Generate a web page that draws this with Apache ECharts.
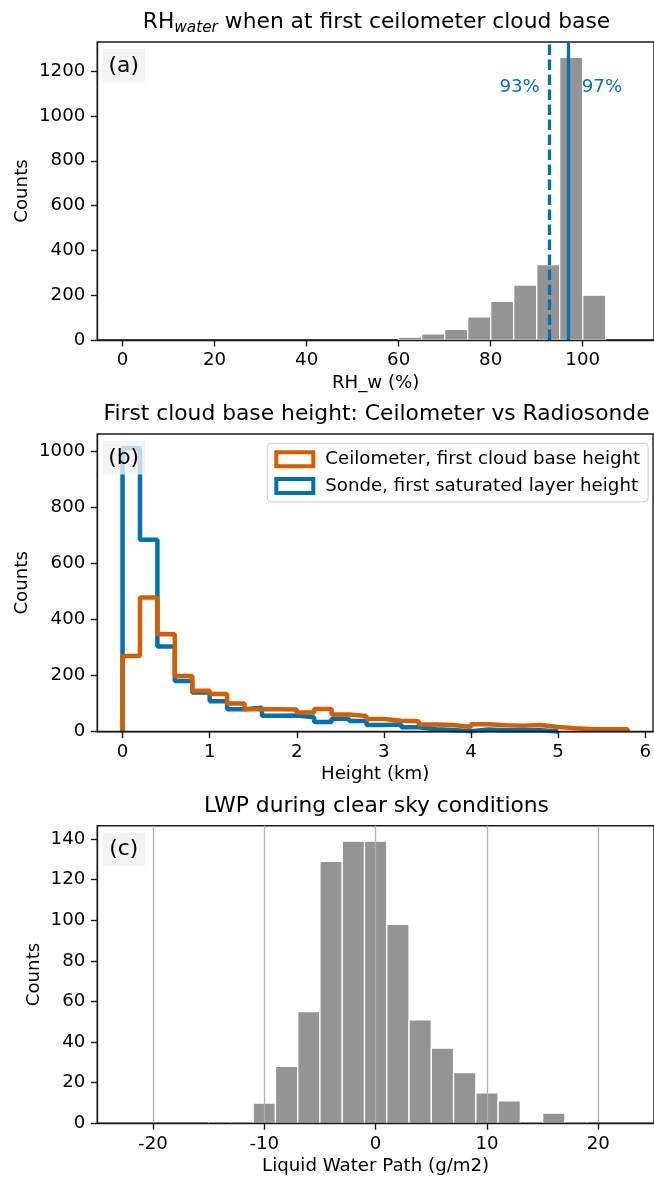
<!DOCTYPE html>
<html><head><meta charset="utf-8">
<script src="https://cdn.jsdelivr.net/npm/echarts@6/dist/echarts.min.js"></script>
<style>html,body{margin:0;padding:0;background:#fff}#c{width:654px;height:1178px}</style>
</head><body><div id="c"></div>
<script>
// ---------- Panel (a): RH_water histogram ----------
const rhBinStarts = [60, 65, 70, 75, 80, 85, 90, 95, 100];
const rhBinWidth = 5;
const rhCounts = [13, 27, 48, 103, 172, 245, 337, 1262, 200];
const rhPercentiles = [92.7, 96.9];          // dashed, solid
const rhPercentileLabels = ['93%', '97%'];
const rhXTicks = [0, 20, 40, 60, 80, 100];
const rhYTicks = [0, 200, 400, 600, 800, 1000, 1200];

// ---------- Panel (b): cloud base height step histograms ----------
const cbhBinWidth = 0.2;
const ceilCounts = [270, 479, 348, 199, 146, 135, 101, 80, 80, 79, 69, 81, 61, 56, 45, 39, 37, 26, 24, 17, 27, 23, 21, 24, 17, 12, 9, 9, 9];
const sondeCounts = [1012, 685, 304, 181, 140, 109, 80, 86, 57, 58, 52, 35, 46, 38, 24, 26, 16, 9, 6, 2, 8, 5, 5, 5, 1];
const cbhXTicks = [0, 1, 2, 3, 4, 5, 6];
const cbhYTicks = [0, 200, 400, 600, 800, 1000];
const legendNames = ['Ceilometer, first cloud base height', 'Sonde, first saturated layer height'];

// ---------- Panel (c): LWP clear sky histogram ----------
const lwpBinCenters = [-22, -20, -18, -16, -14, -12, -10, -8, -6, -4, -2, 0, 2, 4, 6, 8, 10, 12, 14, 16, 18, 20, 22];
const lwpBinWidth = 2;
const lwpCounts = [0, 0, 0, 0, 1, 1, 10, 28, 55, 129, 139, 139, 98, 51, 37, 25, 15, 11, 1, 5, 1, 0, 0];
const lwpXTicks = [-20, -10, 0, 10, 20];
const lwpYTicks = [0, 20, 40, 60, 80, 100, 120, 140];

const titles = ['First cloud base height: Ceilometer vs Radiosonde', 'LWP during clear sky conditions'];
const panelLabels = ['(a)', '(b)', '(c)'];

// ---------- layout ----------
const FONT = 'DejaVu Sans';
const FS = 18.2, TFS = 21.8;
const BLUE = '#0072B2', ORANGE = '#D55E00', GREY = '#949494';
const AXC = '#1a1a1a';
const L = 97.3, R = -2.4;
const grids = [
  {top: 42, height: 298},
  {top: 434, height: 297.7},
  {top: 825.7, height: 297.6}
];

function xAx(gi, min, max, ticks, name) {
  return {
    type: 'value', gridIndex: gi, min, max, name, nameLocation: 'middle', nameGap: 34, z: 5,
    nameTextStyle: {fontSize: FS, color: '#000', fontFamily: FONT},
    axisLine: {show: true, onZero: false, lineStyle: {color: AXC, width: 1.4}},
    axisTick: {show: true, length: 6.4, customValues: ticks, lineStyle: {color: AXC, width: 1.4}},
    axisLabel: {customValues: ticks, fontSize: FS, color: '#000', fontFamily: FONT, margin: 11.5, formatter: v => String(v)},
    splitLine: {show: false}
  };
}
function yAx(gi, max, ticks, gap) {
  return {
    type: 'value', gridIndex: gi, min: 0, max, name: 'Counts', nameLocation: 'middle', nameGap: gap, nameMoveOverlap: false, z: 5,
    nameTextStyle: {fontSize: FS, color: '#000', fontFamily: FONT},
    axisLine: {show: true, onZero: false, lineStyle: {color: AXC, width: 1.4}},
    axisTick: {show: true, length: 6.4, customValues: ticks, lineStyle: {color: AXC, width: 1.4}},
    axisLabel: {customValues: ticks, fontSize: FS, color: '#000', fontFamily: FONT, margin: 12, formatter: v => String(v)},
    splitLine: {show: false}
  };
}

function barRender(params, api) {
  if (!api.value(2)) return null;
  const p0 = api.coord([api.value(0), api.value(2)]);
  const p1 = api.coord([api.value(1), 0]);
  return {type: 'rect', shape: {x: p0[0], y: p0[1], width: p1[0] - p0[0], height: p1[1] - p0[1]},
          style: {fill: GREY, stroke: '#fff', lineWidth: 1.3}};
}
function stepPoints(counts, w) {
  const pts = [[0, 0]];
  counts.forEach((v, i) => { pts.push([i * w, v]); pts.push([(i + 1) * w, v]); });
  pts.push([counts.length * w, 0]);
  return pts;
}

const rhData = rhBinStarts.map((s, i) => [s, s + rhBinWidth, rhCounts[i]]);
const lwpData = lwpBinCenters.map((c, i) => [c - lwpBinWidth / 2, c + lwpBinWidth / 2, lwpCounts[i]]);
const rhLabelPts = [
  {value: [rhPercentiles[0] - 2.0, 1127], label: {formatter: rhPercentileLabels[0], align: 'right'}},
  {value: [rhPercentiles[1] + 2.9, 1127], label: {formatter: rhPercentileLabels[1], align: 'left'}}
];

const graphics = [];
graphics.push({type: 'text', x: 376.5, y: 22, z: 100, style: {
  text: '{n|RH}{s|water}{n| when at first ceilometer cloud base}',
  align: 'center', verticalAlign: 'middle', fill: '#000',
  rich: {n: {fontSize: TFS, fontFamily: FONT, lineHeight: 27, fill: '#000'},
         s: {fontSize: 15.3, fontFamily: FONT, fontStyle: 'italic', lineHeight: 27, verticalAlign: 'bottom', fill: '#000'}}
}});
graphics.push({type: 'text', x: 376.5, y: 414, z: 100, style: {text: titles[0], align: 'center', verticalAlign: 'middle', fontSize: TFS, fontFamily: FONT, fill: '#000'}});
graphics.push({type: 'text', x: 376.5, y: 806, z: 100, style: {text: titles[1], align: 'center', verticalAlign: 'middle', fontSize: TFS, fontFamily: FONT, fill: '#000'}});
grids.forEach((g, i) => {
  graphics.push({type: 'rect', x: 102.5, y: g.top + 7, z: 100, shape: {width: 42.5, height: 33.5},
    style: {fill: 'rgba(240,240,240,0.8)'}});
  graphics.push({type: 'text', x: 123.7, y: g.top + 24, z: 101, style: {text: panelLabels[i], align: 'center', verticalAlign: 'middle', fontSize: TFS, fontFamily: FONT, fill: '#000'}});
});

const option = {
  animation: false,
  backgroundColor: '#fff',
  grid: grids.map(g => ({left: L, right: R, top: g.top, height: g.height, show: true, borderColor: AXC, borderWidth: 1.4, backgroundColor: 'transparent'})),
  xAxis: [
    xAx(0, -5.5, 115.5, rhXTicks, 'RH_w (%)'),
    xAx(1, -0.29, 6.09, cbhXTicks, 'Height (km)'),
    xAx(2, -25, 25, lwpXTicks, 'Liquid Water Path (g/m2)')
  ],
  yAxis: [yAx(0, 1330, rhYTicks, 66.5), yAx(1, 1063, cbhYTicks, 66.5), yAx(2, 146.6, lwpYTicks, 54)],
  legend: {
    orient: 'vertical', left: 267.3, top: 443.3, padding: [5.5, 8, 5.5, 7],
    itemWidth: 37, itemHeight: 14, itemGap: 5.6,
    borderColor: '#cccccc', borderWidth: 1, borderRadius: 4, backgroundColor: 'rgba(255,255,255,0.8)',
    textStyle: {fontSize: FS, fontFamily: FONT, color: '#000', lineHeight: 21, padding: [0, 0, 0, 7]},
    selectedMode: false,
    data: [
      {name: legendNames[0], icon: 'rect', itemStyle: {color: '#fff', borderColor: ORANGE, borderWidth: 4}},
      {name: legendNames[1], icon: 'rect', itemStyle: {color: '#fff', borderColor: BLUE, borderWidth: 4}}
    ]
  },
  graphic: graphics,
  series: [
    {type: 'custom', xAxisIndex: 0, yAxisIndex: 0, renderItem: barRender, data: rhData, z: 2, silent: true},
    {type: 'scatter', xAxisIndex: 0, yAxisIndex: 0, data: rhLabelPts, symbolSize: 0, z: 3, silent: true,
      itemStyle: {opacity: 1, color: BLUE},
      label: {show: true, position: 'inside', color: BLUE, opacity: 1, fontSize: FS, fontFamily: FONT, verticalAlign: 'middle'},
      markLine: {silent: true, symbol: 'none', label: {show: false},
        data: [
          {xAxis: rhPercentiles[0], lineStyle: {color: BLUE, width: 3.3, type: [10.5, 4.5], opacity: 1}},
          {xAxis: rhPercentiles[1], lineStyle: {color: BLUE, width: 3.3, type: 'solid', opacity: 1}}
        ]}},
    {type: 'line', name: legendNames[1], xAxisIndex: 1, yAxisIndex: 1, data: stepPoints(sondeCounts, cbhBinWidth),
      showSymbol: false, symbol: 'none', lineStyle: {color: BLUE, width: 4.5}, itemStyle: {color: BLUE}, z: 3, silent: true},
    {type: 'line', name: legendNames[0], xAxisIndex: 1, yAxisIndex: 1, data: stepPoints(ceilCounts, cbhBinWidth),
      showSymbol: false, symbol: 'none', lineStyle: {color: ORANGE, width: 4.5}, itemStyle: {color: ORANGE}, z: 4, silent: true},
    {type: 'line', xAxisIndex: 2, yAxisIndex: 2, data: [], z: 1, silent: true,
      markLine: {silent: true, symbol: 'none', label: {show: false},
        data: lwpXTicks.map(v => ({xAxis: v})), lineStyle: {color: '#b0b0b0', width: 1.3, type: 'solid'}}},
    {type: 'custom', xAxisIndex: 2, yAxisIndex: 2, renderItem: barRender, data: lwpData, z: 2, silent: true}
  ]
};
const chart = echarts.init(document.getElementById('c'), null, {renderer: 'canvas'});
chart.setOption(option);
</script></body></html>
